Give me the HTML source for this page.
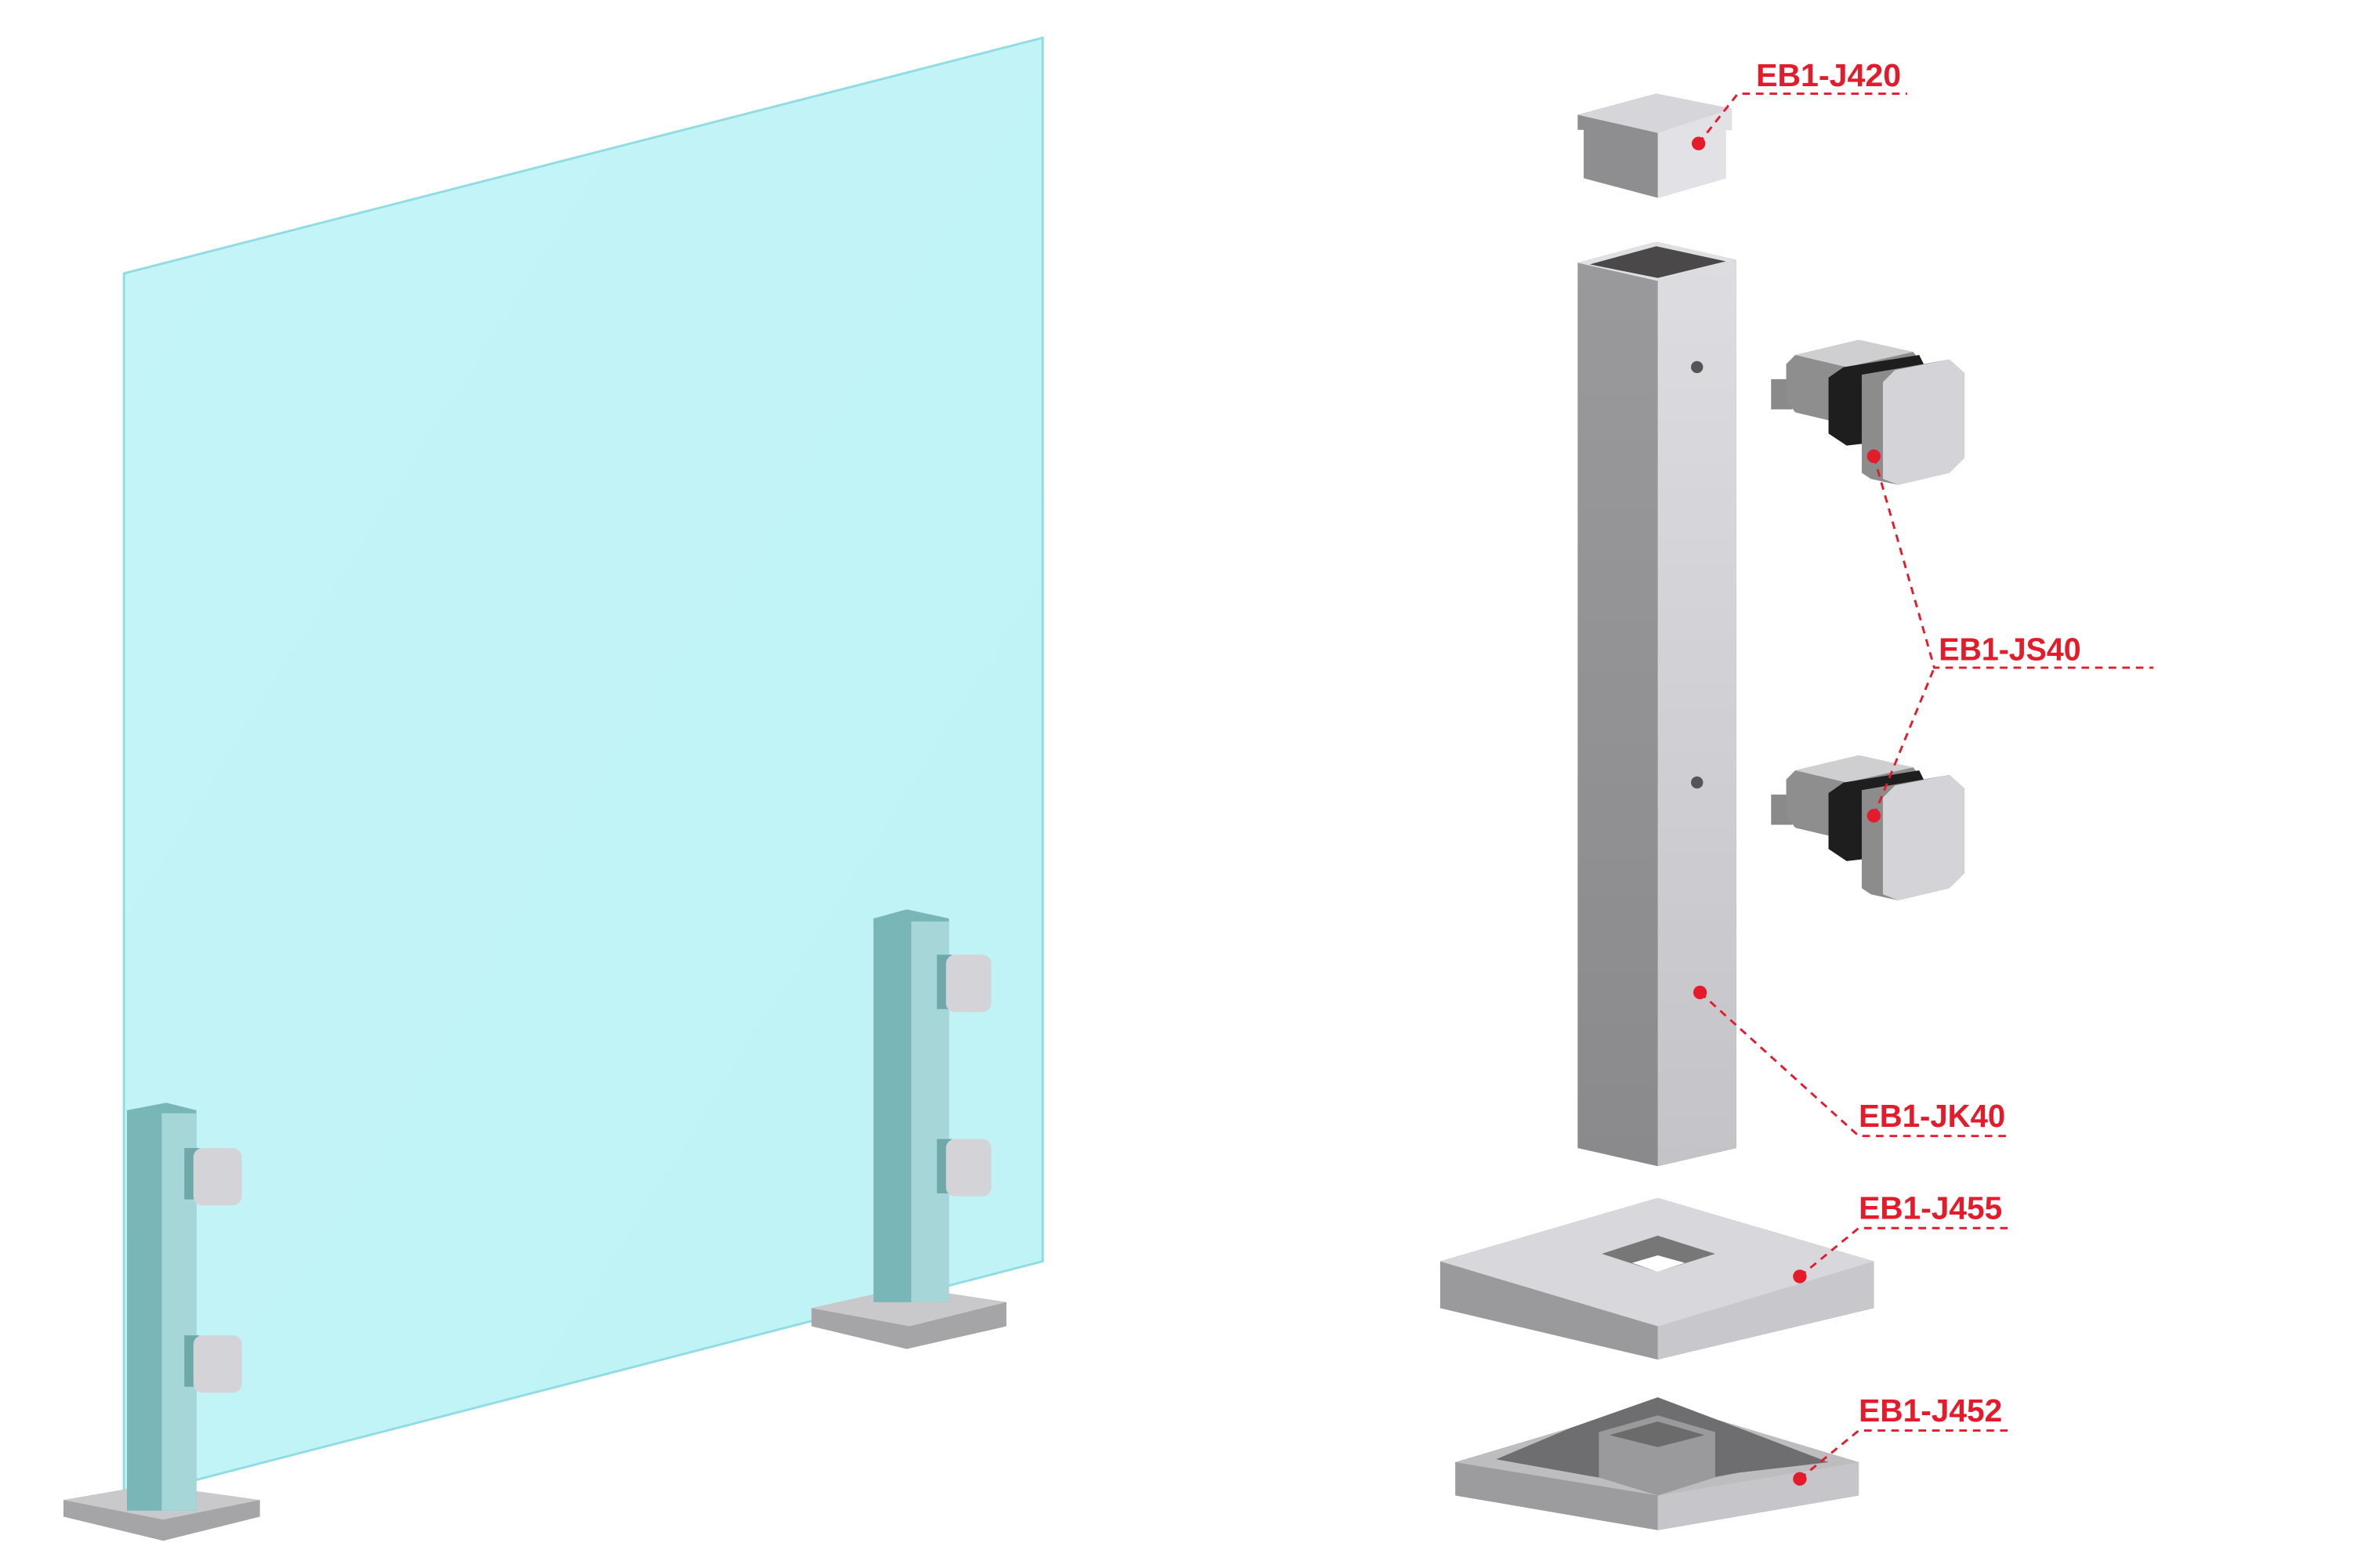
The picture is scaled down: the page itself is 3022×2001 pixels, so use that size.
<!DOCTYPE html>
<html><head><meta charset="utf-8"><style>html,body{margin:0;padding:0;background:#fff}svg{display:block}</style></head>
<body>
<svg width="3022" height="2001" viewBox="0 0 1567 1038" preserveAspectRatio="none" xmlns="http://www.w3.org/2000/svg">
<defs>
<linearGradient id="glass" x1="0" y1="0" x2="1" y2="1"><stop offset="0" stop-color="#c4f4f8"/><stop offset="1" stop-color="#bff3f6"/></linearGradient>
<linearGradient id="lf" x1="0" y1="0" x2="0" y2="1"><stop offset="0" stop-color="#9a9a9c"/><stop offset="1" stop-color="#8a8a8c"/></linearGradient>
<linearGradient id="rf" x1="0" y1="0" x2="0" y2="1"><stop offset="0" stop-color="#dddde1"/><stop offset="1" stop-color="#c4c4c8"/></linearGradient>
<g id="clamp">
<rect x="0" y="26" width="14" height="20" fill="#8a8a8a"/>
<polygon points="16,10 58,0 94,8 102,18 102,58 94,65 58,58 16,48 10,40 10,16" fill="#8e8e8e"/>
<polygon points="16,10 58,0 94,8 50,18" fill="#cfcfd2"/>
<polygon points="38,25 48,18 98,10 102,18 102,64 50,70 38,62" fill="#1e1e1e"/>
<polygon points="60,23 78,20 118,13 128,22 128,78 118,88 84,96 66,92 60,88" fill="#8c8c8c"/>
<polygon points="82,20 118,13 128,22 128,78 118,88 84,96 74,92 74,28" fill="#d4d4d8"/>
</g>
</defs>
<polygon points="82,181 690,25 690,835 82,992" fill="url(#glass)" stroke="#8fdde3" stroke-width="1.5"/>
<polygon points="42,993 100,983 172,993 172,1004 108,1020 42,1004" fill="#a5a5a7"/>
<polygon points="42,993 100,983 172,993 108,1006" fill="#c9c9cc"/>
<polygon points="84,735 110,730 130,735 130,1000 84,1000" fill="#79b6b8"/>
<rect x="107" y="737" width="23" height="263" fill="#a7d6d8"/>
<g fill="#6ea8aa"><rect x="122" y="760" width="10" height="34"/><rect x="122" y="884" width="10" height="34"/></g>
<g fill="#d4d4d8"><rect x="128" y="760" width="32" height="38" rx="6"/><rect x="128" y="884" width="32" height="38" rx="6"/></g>
<polygon points="537,866 600,852 666,862 666,878 600,893 537,878" fill="#a5a5a7"/>
<polygon points="537,866 600,852 666,862 602,878" fill="#c9c9cc"/>
<polygon points="578,608 600,602 628,608 628,862 578,862" fill="#79b6b8"/>
<rect x="603" y="610" width="25" height="252" fill="#a7d6d8"/>
<g fill="#6ea8aa"><rect x="620" y="632" width="10" height="36"/><rect x="620" y="754" width="10" height="36"/></g>
<g fill="#d4d4d8"><rect x="626" y="632" width="30" height="38" rx="6"/><rect x="626" y="754" width="30" height="38" rx="6"/></g>
<polygon points="1044,76 1096,62 1146,72 1146,86 1142,86 1142,118 1097,131 1048,118 1048,86 1044,86" fill="#8e8e90"/>
<polygon points="1097,86 1146,72 1146,86 1142,86 1142,118 1097,131" fill="#e2e2e6"/>
<polygon points="1044,76 1096,62 1146,72 1097,88" fill="#d6d6da"/>
<polygon points="1044,174 1096,160 1149,172 1149,760 1097,772 1044,760" fill="url(#lf)"/>
<polygon points="1097,186 1149,172 1149,760 1097,772" fill="url(#rf)"/>
<polygon points="1044,174 1096,160 1149,172 1097,186" fill="#e0e0e4"/>
<polygon points="1052,175 1096,163 1142,173 1097,184" fill="#4a4848"/>
<circle cx="1123" cy="243" r="4" fill="#555"/><circle cx="1123" cy="518" r="4" fill="#555"/>
<use href="#clamp" x="1172" y="225"/>
<use href="#clamp" x="1172" y="500"/>
<polygon points="953,835 1097,793 1240,835 1240,866 1097,900 953,866" fill="#9a9a9c"/>
<polygon points="1097,845 1240,835 1240,866 1097,900" fill="#c8c8cc"/>
<polygon points="953,835 1097,793 1240,835 1097,878" fill="#d8d8dc"/>
<polygon points="1060,830 1097,818 1135,830 1097,842" fill="#777"/>
<polygon points="1080,836 1097,831 1115,836 1097,842" fill="#fff"/>
<polygon points="963,968 1097,928 1230,968 1230,990 1097,1013 963,990" fill="#9c9c9e"/>
<polygon points="1097,990 1230,968 1230,990 1097,1013" fill="#c6c6ca"/>
<polygon points="963,968 1097,928 1230,968 1097,990" fill="#bdbdc0"/>
<polygon points="990,966 1040,945 1097,925 1150,945 1210,968 1150,975 1097,985 1040,975" fill="#6e6e70"/>
<polygon points="1058,948 1097,937 1135,948 1135,978 1097,990 1058,978" fill="#9a9a9c"/>
<polygon points="1065,950 1097,941 1128,950 1097,958" fill="#6b6b6b"/>
<g stroke="#e31b2b" stroke-width="1.5" stroke-dasharray="5,4" fill="none">
<polyline points="1124,95 1150,62 1262,62"/>
<polyline points="1240,302 1280,442 1425,442"/>
<polyline points="1240,540 1280,442"/>
<polyline points="1125,657 1230,752 1330,752"/>
<polyline points="1191,845 1230,813 1330,813"/>
<polyline points="1191,979 1230,947 1330,947"/>
</g>
<g fill="#e31b2b"><circle cx="1124" cy="95" r="4.5"/><circle cx="1240" cy="302" r="4.5"/><circle cx="1240" cy="540" r="4.5"/><circle cx="1125" cy="657" r="4.5"/><circle cx="1191" cy="845" r="4.5"/><circle cx="1191" cy="979" r="4.5"/></g>
<g fill="#e31b2b" font-family="Liberation Sans, sans-serif" font-weight="bold" font-size="21">
<text x="1162" y="57" textLength="96" lengthAdjust="spacingAndGlyphs">EB1-J420</text>
<text x="1283" y="437" textLength="94" lengthAdjust="spacingAndGlyphs">EB1-JS40</text>
<text x="1230" y="746" textLength="97" lengthAdjust="spacingAndGlyphs">EB1-JK40</text>
<text x="1230" y="807" textLength="95" lengthAdjust="spacingAndGlyphs">EB1-J455</text>
<text x="1230" y="941" textLength="95" lengthAdjust="spacingAndGlyphs">EB1-J452</text>
</g>
</svg>
</body></html>
